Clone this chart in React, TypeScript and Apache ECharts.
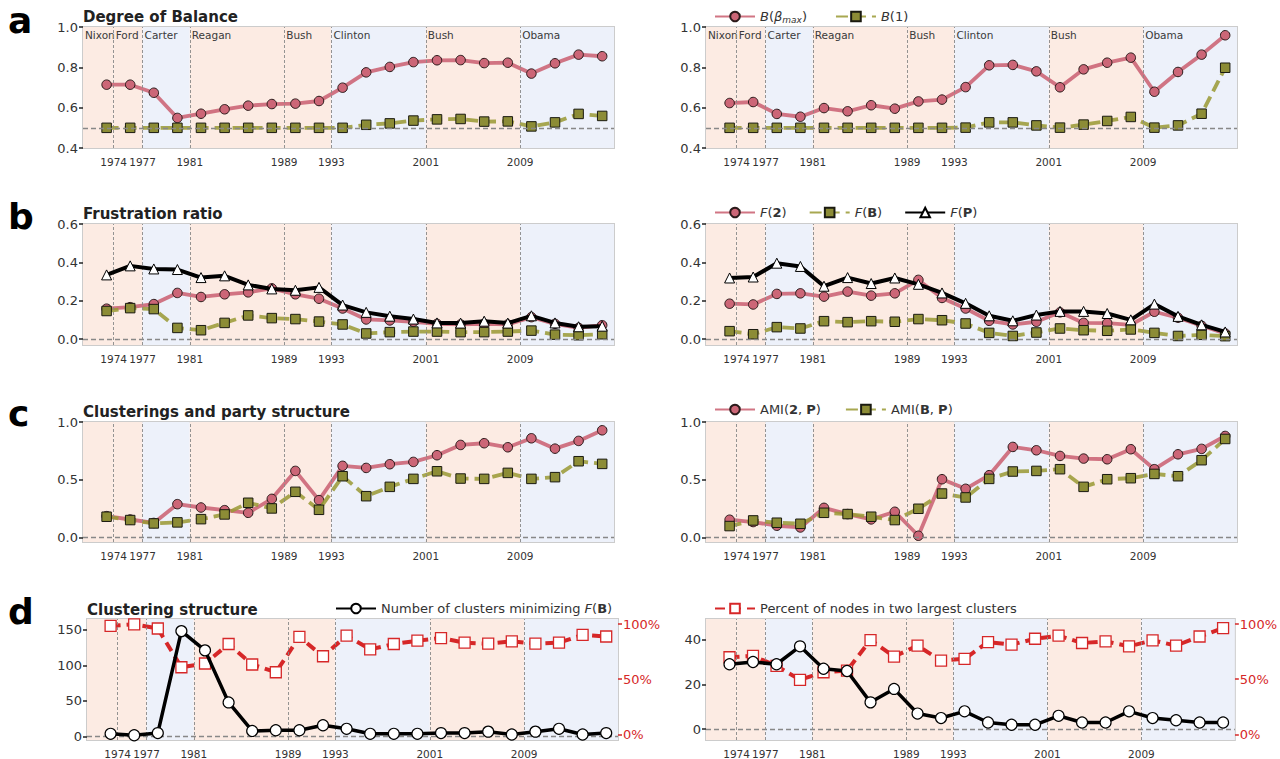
import React, { useEffect, useRef } from 'react';
import * as echarts from 'echarts';

// ---------- data ----------
const years = [1974, 1976, 1978, 1980, 1982, 1984, 1986, 1988, 1990, 1992, 1994, 1996, 1998, 2000, 2002, 2004, 2006, 2008, 2010, 2012, 2014, 2016];

const presidents = ['Nixon', 'Ford', 'Carter', 'Reagan', 'Bush', 'Clinton', 'Bush', 'Obama'];
const shadeStarts = [1972, 1974.6, 1977.05, 1981.05, 1989.05, 1993.05, 2001.05, 2009.05];
const shadeEnds = [1974.6, 1977.05, 1981.05, 1989.05, 1993.05, 2001.05, 2009.05, 2017];
const parties = ['R', 'R', 'D', 'R', 'R', 'D', 'R', 'D'];
const transitionTicks = [1974.6, 1977.05, 1981.05, 1989.05, 1993.05, 2001.05, 2009.05];

// a: degree of balance
const balanceLeftBmax = [0.714, 0.714, 0.674, 0.549, 0.570, 0.592, 0.610, 0.618, 0.620, 0.633, 0.699, 0.775, 0.802, 0.826, 0.835, 0.836, 0.821, 0.823, 0.769, 0.820, 0.863, 0.855];
const balanceLeftB1 = [0.5, 0.5, 0.5, 0.5, 0.5, 0.5, 0.5, 0.5, 0.5, 0.5, 0.5, 0.515, 0.522, 0.536, 0.542, 0.544, 0.531, 0.532, 0.507, 0.527, 0.569, 0.559];
const balanceRightBmax = [0.623, 0.628, 0.569, 0.555, 0.598, 0.582, 0.612, 0.595, 0.631, 0.640, 0.702, 0.810, 0.812, 0.780, 0.701, 0.790, 0.823, 0.848, 0.679, 0.777, 0.863, 0.959];
const balanceRightB1 = [0.5, 0.5, 0.5, 0.5, 0.5, 0.5, 0.5, 0.5, 0.5, 0.5, 0.501, 0.527, 0.527, 0.512, 0.501, 0.516, 0.534, 0.554, 0.501, 0.512, 0.570, 0.798];

// b: frustration ratio
const frustLeftF2 = [0.159, 0.167, 0.183, 0.241, 0.220, 0.234, 0.244, 0.265, 0.234, 0.211, 0.160, 0.103, 0.098, 0.091, 0.080, 0.077, 0.080, 0.077, 0.115, 0.080, 0.059, 0.073];
const frustLeftFB = [0.147, 0.162, 0.157, 0.059, 0.047, 0.085, 0.124, 0.110, 0.105, 0.092, 0.077, 0.030, 0.037, 0.040, 0.040, 0.037, 0.037, 0.040, 0.045, 0.024, 0.021, 0.026];
const frustLeftFP = [0.335, 0.382, 0.366, 0.363, 0.321, 0.330, 0.283, 0.262, 0.255, 0.270, 0.178, 0.140, 0.120, 0.105, 0.085, 0.084, 0.094, 0.084, 0.122, 0.085, 0.065, 0.068];
const frustRightF2 = [0.185, 0.181, 0.236, 0.239, 0.222, 0.248, 0.227, 0.239, 0.309, 0.215, 0.160, 0.096, 0.077, 0.091, 0.140, 0.085, 0.084, 0.075, 0.143, 0.112, 0.070, 0.030];
const frustRightFB = [0.042, 0.026, 0.063, 0.056, 0.094, 0.089, 0.094, 0.091, 0.105, 0.099, 0.082, 0.033, 0.017, 0.035, 0.056, 0.047, 0.044, 0.051, 0.033, 0.017, 0.023, 0.016];
const frustRightFP = [0.319, 0.324, 0.396, 0.379, 0.276, 0.321, 0.290, 0.319, 0.286, 0.241, 0.187, 0.122, 0.096, 0.126, 0.145, 0.145, 0.134, 0.101, 0.183, 0.119, 0.075, 0.038];

// c: AMI
const amiLeft2P = [0.184, 0.155, 0.125, 0.288, 0.259, 0.236, 0.213, 0.334, 0.576, 0.323, 0.620, 0.602, 0.634, 0.654, 0.712, 0.801, 0.816, 0.781, 0.859, 0.769, 0.836, 0.928];
const amiLeftBP = [0.179, 0.150, 0.121, 0.130, 0.158, 0.199, 0.300, 0.251, 0.395, 0.239, 0.530, 0.357, 0.438, 0.507, 0.573, 0.510, 0.507, 0.559, 0.507, 0.522, 0.660, 0.637];
const amiRight2P = [0.153, 0.133, 0.101, 0.086, 0.256, 0.202, 0.156, 0.222, 0.014, 0.504, 0.421, 0.539, 0.784, 0.755, 0.706, 0.683, 0.677, 0.764, 0.591, 0.720, 0.767, 0.879];
const amiRightBP = [0.098, 0.147, 0.127, 0.118, 0.213, 0.202, 0.179, 0.150, 0.248, 0.380, 0.346, 0.507, 0.571, 0.576, 0.591, 0.438, 0.504, 0.513, 0.550, 0.530, 0.669, 0.853];

// d: clustering structure
const clustersLeft = [4, 2, 5, 148, 121, 48, 8, 9, 9, 16, 11, 4, 4, 4, 5, 5, 7, 3, 7, 11, 3, 5];
const percentLeft = [98.4, 99.8, 96.0, 60.8, 64.2, 81.9, 63.3, 56.3, 88.3, 70.8, 89.5, 77.1, 81.9, 84.9, 87.3, 83.1, 82.2, 84.3, 82.2, 83.1, 90.2, 88.7];
const clustersRight = [29, 30, 29, 37, 27, 26, 12, 18, 7, 5, 8, 3, 2, 2, 6, 3, 3, 8, 5, 4, 3, 3];
const percentRight = [69.9, 71.1, 62.0, 49.4, 56.3, 57.8, 85.5, 70.5, 80.4, 66.9, 68.4, 83.7, 81.3, 86.7, 89.5, 82.8, 84.3, 79.8, 85.2, 80.5, 88.7, 96.4];

const panelTitles = ['Degree of Balance', 'Frustration ratio', 'Clusterings and party structure', 'Clustering structure'];
const panelLetters = ['a', 'b', 'c', 'd'];

// ---------- styles ----------
const ROSE = '#cc6677';
const OLIVE = '#999933';
const OLIVE_MARK = '#8c8c36';
const RED = '#d62728';
const PINK_BG = '#fcebe3';
const BLUE_BG = '#edf1fa';
const FONT = 'DejaVu Sans';

const legendLabels: Record<string, string> = {
  'B(β_max)': '{i|B}({i|β}{sub|max})',
  'B(1)': '{i|B}(1)',
  'F(2)': '{i|F}({b|2})',
  'F(B)': '{i|F}({b|B})',
  'F(P)': '{i|F}({b|P})',
  'AMI(2, P)': 'AMI({b|2}, {b|P})',
  'AMI(B, P)': 'AMI({b|B}, {b|P})',
  'Number of clusters minimizing F(B)': 'Number of clusters minimizing {i|F}({b|B})',
  'Percent of nodes in two largest clusters': 'Percent of nodes in two largest clusters',
};

const gridBoxes = [
  { left: 83, top: 27, width: 531, height: 121 },
  { left: 706, top: 27, width: 531, height: 121 },
  { left: 83, top: 224, width: 531, height: 121 },
  { left: 706, top: 224, width: 531, height: 121 },
  { left: 83, top: 422, width: 531, height: 120 },
  { left: 706, top: 422, width: 531, height: 120 },
  { left: 87, top: 619, width: 531, height: 121 },
  { left: 706, top: 619, width: 531, height: 121 },
];

function pairs(vals: number[]) {
  return years.map((y, i) => [y, vals[i]]);
}

function roseSeries(name: string, g: number, vals: number[]) {
  return {
    type: 'line', name, xAxisIndex: g, yAxisIndex: g, data: pairs(vals),
    symbol: 'circle', symbolSize: 9.5, showAllSymbol: true, z: 3,
    lineStyle: { color: ROSE, width: 3.8, opacity: 0.9 },
    itemStyle: { color: ROSE, borderColor: '#2a1a1a', borderWidth: 1 },
  };
}
function oliveSeries(name: string, g: number, vals: number[]) {
  return {
    type: 'line', name, xAxisIndex: g, yAxisIndex: g, data: pairs(vals),
    symbol: 'rect', symbolSize: 9.5, showAllSymbol: true, z: 4,
    lineStyle: { color: OLIVE, width: 3.8, type: [12, 6], opacity: 0.85 },
    itemStyle: { color: OLIVE_MARK, borderColor: '#1a1a10', borderWidth: 1 },
  };
}
function blackTriSeries(name: string, g: number, vals: number[]) {
  return {
    type: 'line', name, xAxisIndex: g, yAxisIndex: g, data: pairs(vals),
    symbol: 'triangle', symbolSize: 10, showAllSymbol: true, z: 5,
    lineStyle: { color: '#000', width: 4 },
    itemStyle: { color: '#fff', borderColor: '#000', borderWidth: 1 },
  };
}
function clusterSeries(name: string, g: number, vals: number[]) {
  return {
    type: 'line', name, xAxisIndex: g, yAxisIndex: g, data: pairs(vals),
    symbol: 'circle', symbolSize: 11, showAllSymbol: true, z: 5,
    lineStyle: { color: '#000', width: 3.5 },
    itemStyle: { color: '#fff', borderColor: '#000', borderWidth: 1.2 },
  };
}
function percentSeries(name: string, g: number, yi: number, vals: number[]) {
  return {
    type: 'line', name, xAxisIndex: g, yAxisIndex: yi, data: pairs(vals),
    symbol: 'rect', symbolSize: 11, showAllSymbol: true, z: 4,
    lineStyle: { color: RED, width: 4, type: [10, 6] },
    itemStyle: { color: '#fff', borderColor: RED, borderWidth: 1.3 },
  };
}

function backgroundSeries(g: number, refY: number, showNames: boolean) {
  return {
    type: 'line', name: 'bg' + g, xAxisIndex: g, yAxisIndex: g, data: [], z: 1, silent: true,
    markArea: {
      silent: true,
      data: presidents.map((p, i) => [
        {
          name: p, xAxis: shadeStarts[i],
          itemStyle: { color: parties[i] === 'R' ? PINK_BG : BLUE_BG, borderWidth: 0 },
          label: {
            show: showNames, position: 'insideTopLeft', distance: 2, color: '#3a3a3a',
            fontSize: 10.5, fontFamily: FONT, formatter: p,
          },
        },
        { xAxis: shadeEnds[i] },
      ]),
    },
    markLine: {
      silent: true, symbol: ['none', 'none'], label: { show: false },
      data: [
        ...transitionTicks.map((t) => ({
          xAxis: t, lineStyle: { color: '#888', width: 0.9, type: [3, 2] },
        })),
        { yAxis: refY, lineStyle: { color: '#888', width: 1.4, type: [5, 3] } },
      ],
    },
  };
}

function xAxis(g: number) {
  return {
    type: 'value', gridIndex: g, min: 1972, max: 2017,
    axisLine: { show: false }, axisTick: { show: false }, splitLine: { show: false },
    axisLabel: {
      customValues: transitionTicks, formatter: (v: number) => String(Math.floor(v)),
      fontSize: 10.5, color: '#333', margin: 8, fontFamily: FONT,
    },
  };
}

function yAxis(g: number, min: number, max: number, ticks: number[], fmt: (v: number) => string, right = false) {
  const col = right ? RED : '#333';
  return {
    type: 'value', gridIndex: g, min, max, position: right ? 'right' : 'left',
    axisLine: { show: false }, splitLine: { show: false },
    axisTick: { show: true, length: 4, customValues: ticks, lineStyle: { color: right ? RED : '#222', width: 1.5 } },
    axisLabel: { customValues: ticks, formatter: fmt, fontSize: 13, color: col, margin: 5, fontFamily: FONT },
  };
}

const dec1 = (v: number) => v.toFixed(1);
const intFmt = (v: number) => String(Math.round(v));
const pctFmt = (v: number) => Math.round(v) + '%';

function legend(left: number, top: number, data: string[], gap = 24) {
  return {
    left, top, data, itemWidth: 40, itemHeight: 12, itemGap: gap, selectedMode: false,
    padding: 0,
    formatter: (n: string) => legendLabels[n] || n,
    textStyle: {
      fontSize: 13, color: '#333', fontFamily: FONT,
      rich: {
        i: { fontStyle: 'italic', fontSize: 13, color: '#333', fontFamily: FONT },
        b: { fontWeight: 'bold', fontSize: 13, color: '#333', fontFamily: FONT },
        sub: { fontStyle: 'italic', fontSize: 9, color: '#333', fontFamily: FONT, padding: [6, 0, 0, 0] },
      },
    },
  };
}

function buildOption() {
  const titleTops = [9, 206, 404, 602];
  const letterTops = [2, 198, 395, 593];
  const titles: any[] = [];
  panelTitles.forEach((t, i) => {
    titles.push({
      text: t, left: i === 3 ? 87 : 83, top: titleTops[i], padding: 0,
      textStyle: { fontSize: 15, fontWeight: 'bold', color: '#222', fontFamily: FONT },
    });
    titles.push({
      text: panelLetters[i], left: 8, top: letterTops[i], padding: 0,
      textStyle: { fontSize: 36, fontWeight: 'bold', color: '#000', fontFamily: FONT },
    });
  });

  const yAxes = [
    yAxis(0, 0.4, 1.0, [0.4, 0.6, 0.8, 1.0], dec1),
    yAxis(1, 0.4, 1.0, [0.4, 0.6, 0.8, 1.0], dec1),
    yAxis(2, -0.03, 0.6, [0, 0.2, 0.4, 0.6], dec1),
    yAxis(3, -0.03, 0.6, [0, 0.2, 0.4, 0.6], dec1),
    yAxis(4, -0.04, 1.0, [0, 0.5, 1.0], dec1),
    yAxis(5, -0.04, 1.0, [0, 0.5, 1.0], dec1),
    yAxis(6, -4.7, 165, [0, 50, 100, 150], intFmt),
    yAxis(7, -4.8, 49.2, [0, 20, 40], intFmt),
    yAxis(6, -5.2, 104.6, [0, 50, 100], pctFmt, true),
    yAxis(7, -5.2, 104.6, [0, 50, 100], pctFmt, true),
  ];

  const series: any[] = [
    backgroundSeries(0, 0.5, true),
    backgroundSeries(1, 0.5, true),
    backgroundSeries(2, 0, false),
    backgroundSeries(3, 0, false),
    backgroundSeries(4, 0, false),
    backgroundSeries(5, 0, false),
    backgroundSeries(6, 0, false),
    backgroundSeries(7, 0, false),
    roseSeries('B(β_max)', 0, balanceLeftBmax),
    oliveSeries('B(1)', 0, balanceLeftB1),
    roseSeries('B(β_max)', 1, balanceRightBmax),
    oliveSeries('B(1)', 1, balanceRightB1),
    roseSeries('F(2)', 2, frustLeftF2),
    oliveSeries('F(B)', 2, frustLeftFB),
    blackTriSeries('F(P)', 2, frustLeftFP),
    roseSeries('F(2)', 3, frustRightF2),
    oliveSeries('F(B)', 3, frustRightFB),
    blackTriSeries('F(P)', 3, frustRightFP),
    roseSeries('AMI(2, P)', 4, amiLeft2P),
    oliveSeries('AMI(B, P)', 4, amiLeftBP),
    roseSeries('AMI(2, P)', 5, amiRight2P),
    oliveSeries('AMI(B, P)', 5, amiRightBP),
    percentSeries('Percent of nodes in two largest clusters', 6, 8, percentLeft),
    clusterSeries('Number of clusters minimizing F(B)', 6, clustersLeft),
    percentSeries('Percent of nodes in two largest clusters', 7, 9, percentRight),
    clusterSeries('Number of clusters minimizing F(B)', 7, clustersRight),
  ];

  return {
    animation: false,
    backgroundColor: '#fff',
    textStyle: { fontFamily: FONT },
    title: titles,
    grid: gridBoxes.map((b) => ({
      ...b, show: true, borderColor: '#cccccc', borderWidth: 2, backgroundColor: 'transparent', containLabel: false,
    })),
    xAxis: gridBoxes.map((_, i) => xAxis(i)),
    yAxis: yAxes,
    legend: [
      legend(714, 10, ['B(β_max)', 'B(1)'], 28),
      legend(714, 206, ['F(2)', 'F(B)', 'F(P)'], 22),
      legend(714, 403, ['AMI(2, P)', 'AMI(B, P)'], 24),
      legend(335, 602, ['Number of clusters minimizing F(B)']),
      legend(714, 602, ['Percent of nodes in two largest clusters']),
    ],
    series,
  };
}

export default function App() {
  const ref = useRef<HTMLDivElement>(null);
  useEffect(() => {
    document.body.style.margin = '0';
    if (!ref.current) return;
    const chart = echarts.init(ref.current, null, { renderer: 'svg' });
    chart.setOption(buildOption() as any);
    return () => chart.dispose();
  }, []);
  return <div ref={ref} style={{ width: 1280, height: 759 }} />;
}
